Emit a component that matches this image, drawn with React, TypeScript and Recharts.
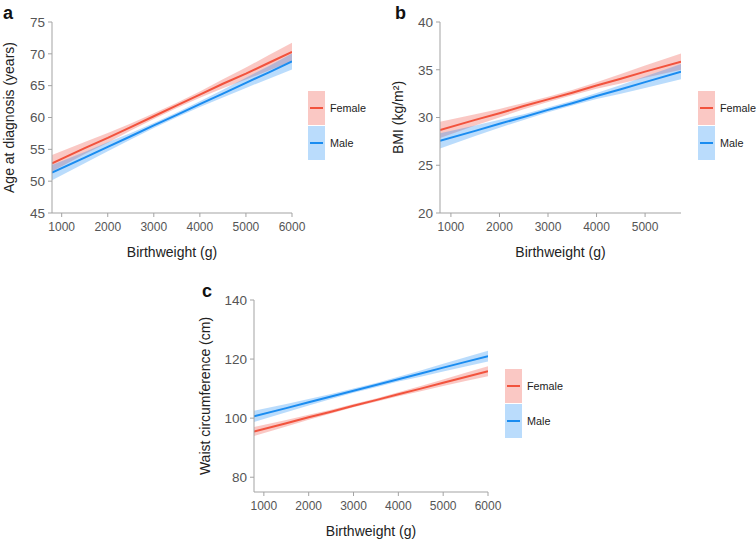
import React from 'react';
import { ComposedChart, Area, Line, XAxis, YAxis } from 'recharts';

// panel a: age at diagnosis
const BW_A = [790, 1500, 2000, 2500, 3000, 3500, 4000, 4500, 5000, 5500, 6000];
const AGE_F = [52.8, 55.2, 56.8, 58.5, 60.2, 61.9, 63.6, 65.3, 66.9, 68.6, 70.3];
const AGE_F_LO = [51.5, 54.25, 56.05, 57.95, 59.75, 61.48, 63.1, 64.6, 65.95, 67.4, 68.85];
const AGE_F_HI = [54.1, 56.15, 57.55, 59.05, 60.65, 62.32, 64.1, 66.0, 67.85, 69.8, 71.75];
const AGE_M = [51.35, 53.7, 55.4, 57.05, 58.75, 60.4, 62.1, 63.75, 65.45, 67.1, 68.8];
const AGE_M_LO = [50.15, 52.8, 54.7, 56.55, 58.35, 60.02, 61.65, 63.15, 64.65, 66.1, 67.55];
const AGE_M_HI = [52.55, 54.6, 56.1, 57.55, 59.15, 60.78, 62.55, 64.35, 66.25, 68.1, 70.05];

// panel b: BMI
const BW_B = [775, 1500, 2000, 2500, 3000, 3500, 4000, 4500, 5000, 5740];
const BMI_F = [28.7, 29.75, 30.45, 31.2, 31.9, 32.6, 33.35, 34.05, 34.8, 35.85];
const BMI_F_LO = [27.85, 29.15, 30.0, 30.87, 31.63, 32.33, 33.0, 33.55, 34.15, 35.0];
const BMI_F_HI = [29.55, 30.35, 30.9, 31.53, 32.17, 32.87, 33.7, 34.55, 35.45, 36.7];
const BMI_M = [27.55, 28.6, 29.35, 30.05, 30.8, 31.5, 32.25, 32.95, 33.7, 34.8];
const BMI_M_LO = [26.75, 28.05, 28.93, 29.75, 30.55, 31.25, 31.93, 32.5, 33.1, 34.0];
const BMI_M_HI = [28.35, 29.15, 29.77, 30.35, 31.05, 31.75, 32.57, 33.4, 34.3, 35.6];

// panel c: waist circumference
const BW_C = [780, 1500, 2000, 2500, 3000, 3500, 4000, 4500, 5000, 5500, 6000];
const WAIST_F = [95.5, 98.3, 100.3, 102.2, 104.2, 106.1, 108.1, 110.0, 112.0, 113.95, 115.9];
const WAIST_F_LO = [94.0, 97.2, 99.45, 101.55, 103.65, 105.55, 107.45, 109.15, 110.9, 112.55, 114.2];
const WAIST_F_HI = [97.0, 99.4, 101.15, 102.85, 104.75, 106.65, 108.75, 110.85, 113.1, 115.35, 117.6];
const WAIST_M = [100.6, 103.4, 105.4, 107.3, 109.3, 111.2, 113.2, 115.1, 117.1, 119.05, 121.0];
const WAIST_M_LO = [98.7, 102.0, 104.3, 106.45, 108.6, 110.5, 112.4, 114.05, 115.8, 117.45, 119.15];
const WAIST_M_HI = [102.5, 104.8, 106.5, 108.15, 110.0, 111.9, 114.0, 116.15, 118.4, 120.65, 122.85];

const X_TICKS_6000 = [1000, 2000, 3000, 4000, 5000, 6000];
const X_TICKS_5000 = [1000, 2000, 3000, 4000, 5000];
const AGE_TICKS = [45, 50, 55, 60, 65, 70, 75];
const BMI_TICKS = [20, 25, 30, 35, 40];
const WAIST_TICKS = [80, 100, 120, 140];

const SEXES = ['Female', 'Male'];
const LINE_COLORS = ['#f2533d', '#1a8cf0'];
const FILL_COLORS = ['#f04a3a', '#1a8cf5'];

const FONT = '"Liberation Sans", Arial, sans-serif';
const AXIS = '#a3a3a3';
const TICK_TEXT = '#555';

function build(bw: number[], f: number[], fLo: number[], fHi: number[], m: number[], mLo: number[], mHi: number[]) {
  return bw.map((x, i) => ({
    bw: x,
    f: f[i],
    fBand: [fLo[i], fHi[i]],
    m: m[i],
    mBand: [mLo[i], mHi[i]],
  }));
}

function LegendBox({ left, top }: { left: number; top: number }) {
  return (
    <div style={{ position: 'absolute', left, top }}>
      {SEXES.map((s, i) => (
        <div key={s} style={{ position: 'relative', height: 35, width: 58 }}>
          <svg width={17} height={34} style={{ position: 'absolute', left: 0, top: 0 }}>
            <rect x={0} y={0} width={17} height={34} fill={FILL_COLORS[i]} fillOpacity={0.3} />
            <line x1={2} x2={15} y1={17} y2={17} stroke={LINE_COLORS[i]} strokeWidth={2} />
          </svg>
          <span
            style={{
              position: 'absolute',
              left: 22,
              top: 10,
              fontSize: 10.8,
              fontFamily: FONT,
              color: '#222',
              lineHeight: '14px',
            }}
          >
            {s}
          </span>
        </div>
      ))}
    </div>
  );
}

interface PanelProps {
  letter: string;
  left: number;
  top: number;
  width: number;
  height: number;
  yAxisWidth: number;
  marginTop: number;
  marginRight: number;
  data: ReturnType<typeof build>;
  xDomain: [number, number];
  xTicks: number[];
  yDomain: [number, number];
  yTicks: number[];
  yLabel: string;
  yLabelOffset: number;
  legendLeft: number;
  legendTop: number;
  letterLeft: number;
  letterTop: number;
}

function Panel(p: PanelProps) {
  const tickStyle = { fill: TICK_TEXT, fontFamily: FONT };
  return (
    <div style={{ position: 'absolute', left: p.left, top: p.top, width: p.width, height: p.height }}>
      <ComposedChart
        width={p.width}
        height={p.height}
        data={p.data}
        margin={{ top: p.marginTop, right: p.marginRight, left: 0, bottom: 2 }}
      >
        <XAxis
          dataKey="bw"
          type="number"
          domain={p.xDomain}
          ticks={p.xTicks}
          allowDataOverflow
          height={46}
          tickSize={4}
          tickMargin={5}
          stroke={AXIS}
          tick={{ ...tickStyle, fontSize: 12 }}
          label={{
            value: 'Birthweight (g)',
            position: 'insideBottom',
            offset: 2,
            fill: '#222',
            fontSize: 14,
            fontFamily: FONT,
          }}
        />
        <YAxis
          type="number"
          domain={p.yDomain}
          ticks={p.yTicks}
          allowDataOverflow
          width={p.yAxisWidth}
          tickSize={4}
          tickMargin={3}
          stroke={AXIS}
          tick={{ ...tickStyle, fontSize: 13.5 }}
          label={{
            value: p.yLabel,
            angle: -90,
            position: 'insideLeft',
            offset: p.yLabelOffset,
            textAnchor: 'middle',
            fill: '#222',
            fontSize: 14,
            fontFamily: FONT,
          }}
        />
        <Area
          dataKey="fBand"
          type="linear"
          stroke="none"
          fill={FILL_COLORS[0]}
          fillOpacity={0.3}
          isAnimationActive={false}
        />
        <Area
          dataKey="mBand"
          type="linear"
          stroke="none"
          fill={FILL_COLORS[1]}
          fillOpacity={0.3}
          isAnimationActive={false}
        />
        <Line dataKey="f" type="linear" stroke={LINE_COLORS[0]} strokeWidth={2} dot={false} isAnimationActive={false} />
        <Line dataKey="m" type="linear" stroke={LINE_COLORS[1]} strokeWidth={2} dot={false} isAnimationActive={false} />
      </ComposedChart>
      <div
        style={{
          position: 'absolute',
          left: p.letterLeft,
          top: p.letterTop,
          fontFamily: FONT,
          fontWeight: 'bold',
          fontSize: 18,
          lineHeight: '18px',
          color: '#111',
        }}
      >
        {p.letter}
      </div>
      <LegendBox left={p.legendLeft} top={p.legendTop} />
    </div>
  );
}

export default function App() {
  const dataA = build(BW_A, AGE_F, AGE_F_LO, AGE_F_HI, AGE_M, AGE_M_LO, AGE_M_HI);
  const dataB = build(BW_B, BMI_F, BMI_F_LO, BMI_F_HI, BMI_M, BMI_M_LO, BMI_M_HI);
  const dataC = build(BW_C, WAIST_F, WAIST_F_LO, WAIST_F_HI, WAIST_M, WAIST_M_LO, WAIST_M_HI);
  return (
    <div style={{ position: 'absolute', left: 0, top: 0, width: 756, height: 540, background: '#fff' }}>
      <Panel
        letter="a"
        left={0}
        top={0}
        width={370}
        height={261}
        yAxisWidth={52}
        marginTop={22}
        marginRight={78}
        data={dataA}
        xDomain={[790, 6000]}
        xTicks={X_TICKS_6000}
        yDomain={[45, 75]}
        yTicks={AGE_TICKS}
        yLabel="Age at diagnosis (years)"
        yLabelOffset={9}
        legendLeft={308}
        legendTop={91}
        letterLeft={3}
        letterTop={4}
      />
      <Panel
        letter="b"
        left={370}
        top={0}
        width={386}
        height={261}
        yAxisWidth={70}
        marginTop={22}
        marginRight={75}
        data={dataB}
        xDomain={[775, 5740]}
        xTicks={X_TICKS_5000}
        yDomain={[20, 40]}
        yTicks={BMI_TICKS}
        yLabel="BMI (kg/m²)"
        yLabelOffset={28}
        legendLeft={328}
        legendTop={91}
        letterLeft={25}
        letterTop={4}
      />
      <Panel
        letter="c"
        left={190}
        top={270}
        width={380}
        height={270}
        yAxisWidth={64}
        marginTop={30}
        marginRight={82}
        data={dataC}
        xDomain={[780, 6000]}
        xTicks={X_TICKS_6000}
        yDomain={[75, 140]}
        yTicks={WAIST_TICKS}
        yLabel="Waist circumference (cm)"
        yLabelOffset={15}
        legendLeft={315}
        legendTop={99}
        letterLeft={12}
        letterTop={12}
      />
    </div>
  );
}
